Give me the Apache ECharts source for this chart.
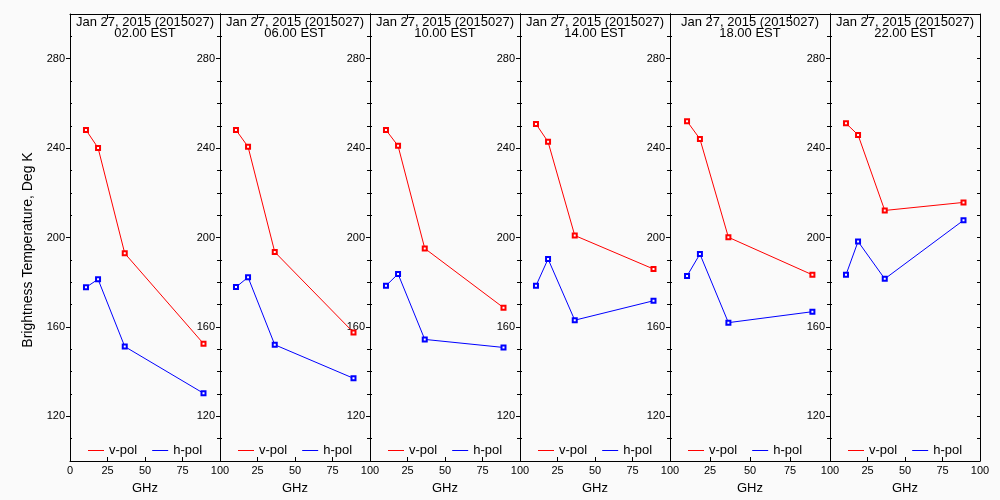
<!DOCTYPE html>
<html>
<head>
<meta charset="utf-8">
<script src="https://cdn.jsdelivr.net/npm/echarts@6/dist/echarts.min.js"></script>
<style>html,body{margin:0;padding:0;background:#fafafa;}#c{width:1000px;height:500px;}</style>
</head>
<body>
<div id="c"></div>
<script>
// ---- data ----
const freqs = [10.65, 18.7, 36.5, 89.0];
const dateLabel = 'Jan 27, 2015 (2015027)';
const times = ['02.00 EST', '06.00 EST', '10.00 EST', '14.00 EST', '18.00 EST', '22.00 EST'];
const vPol0200 = [248.1, 240.1, 192.9, 152.5];
const hPol0200 = [177.7, 181.3, 151.2, 130.3];
const vPol0600 = [248.1, 240.6, 193.5, 157.5];
const hPol0600 = [177.8, 182.2, 152.0, 137.0];
const vPol1000 = [248.1, 241.0, 195.1, 168.6];
const hPol1000 = [178.4, 183.7, 154.4, 150.8];
const vPol1400 = [250.8, 242.8, 200.9, 185.9];
const hPol1400 = [178.4, 190.4, 163.0, 171.7];
const vPol1800 = [252.0, 244.1, 200.1, 183.3];
const hPol1800 = [182.8, 192.6, 161.9, 166.8];
const vPol2200 = [251.1, 245.9, 212.1, 215.7];
const hPol2200 = [183.3, 198.2, 181.5, 207.7];
const yMajorTicks = [120, 160, 200, 240, 280];
const yMinorTicks = [110, 130, 140, 150, 170, 180, 190, 210, 220, 230, 250, 260, 270, 290];
const seriesNames = ['v-pol', 'h-pol'];
const seriesColors = ['#ff0000', '#0000ff'];
const yTitle = 'Brightness Temperature, Deg K';
const xTitle = 'GHz';

const vPols = [vPol0200, vPol0600, vPol1000, vPol1400, vPol1800, vPol2200];
const hPols = [hPol0200, hPol0600, hPol1000, hPol1400, hPol1800, hPol2200];

// ---- layout ----
const panelLeft = [70, 220, 370, 520, 670, 830];
const panelWidth = [150, 150, 150, 150, 160, 150];
const gridTop = 14, gridHeight = 449.5;
const FONT = '"Liberation Sans", Arial, sans-serif';

const grid = [], xAxis = [], yAxis = [], series = [], legend = [], graphic = [];
const allYTicks = yMajorTicks.concat(yMinorTicks).sort((a, b) => a - b);

for (let i = 0; i < 6; i++) {
  grid.push({ left: panelLeft[i], top: gridTop, width: panelWidth[i], height: gridHeight, containLabel: false });
  xAxis.push({
    type: 'value', gridIndex: i, min: 0, max: 100, interval: 25, position: 'bottom',
    name: xTitle, nameLocation: 'middle', nameGap: 21,
    nameTextStyle: { color: '#000', fontSize: 13, fontFamily: FONT },
    axisLine: { show: true, lineStyle: { color: '#000', width: 1 } },
    axisTick: { show: true, inside: true, length: 4, lineStyle: { color: '#000' } },
    axisLabel: {
      show: true, color: '#000', fontSize: 11, fontFamily: FONT, margin: 4,
      showMinLabel: true, showMaxLabel: true,
      formatter: (v) => (i > 0 && v === 0) ? '' : String(v)
    },
    splitLine: { show: false }
  });
  xAxis.push({
    type: 'value', gridIndex: i, min: 0, max: 100, interval: 25, position: 'top',
    axisLine: { show: true, lineStyle: { color: '#000', width: 1 } },
    axisTick: { show: true, inside: true, length: 5, lineStyle: { color: '#000' } },
    axisLabel: { show: false }, splitLine: { show: false }
  });
  yAxis.push({
    type: 'value', gridIndex: i, min: 100, max: 300, position: 'left',
    axisLine: { show: true, lineStyle: { color: '#000', width: 1 } },
    axisTick: { show: true, inside: false, length: 4, customValues: yMajorTicks, lineStyle: { color: '#000' } },
    axisLabel: { show: true, customValues: yMajorTicks, color: '#000', fontSize: 11, fontFamily: FONT, margin: 5 },
    splitLine: { show: false }
  });
  yAxis.push({
    type: 'value', gridIndex: i, min: 100, max: 300, position: 'left',
    axisLine: { show: false },
    axisTick: { show: true, inside: true, length: 2, customValues: yMinorTicks, lineStyle: { color: '#000' } },
    axisLabel: { show: false }, splitLine: { show: false }
  });
  yAxis.push({
    type: 'value', gridIndex: i, min: 100, max: 300, position: 'right',
    axisLine: { show: true, lineStyle: { color: '#000', width: 1 } },
    axisTick: { show: true, inside: true, length: 3, customValues: allYTicks, lineStyle: { color: '#000' } },
    axisLabel: { show: false }, splitLine: { show: false }
  });

  const mk = (arr) => freqs.map((f, j) => [f, arr[j]]);
  [vPols[i], hPols[i]].forEach((arr, k) => {
    series.push({
      name: seriesNames[k], type: 'line', xAxisIndex: 2 * i, yAxisIndex: 3 * i,
      data: mk(arr), color: seriesColors[k], symbol: 'emptyRect', symbolSize: 4,
      lineStyle: { width: 1, color: seriesColors[k] },
      itemStyle: { color: seriesColors[k], borderColor: seriesColors[k], borderWidth: 1 },
      emphasis: { disabled: true },
      animation: false
    });
  });

  legend.push({
    data: seriesNames.map((n, k) => ({ name: n, itemStyle: { color: seriesColors[k], borderWidth: 0 } })),
    left: panelLeft[i] + 18, top: 444, orient: 'horizontal',
    icon: 'rect', itemWidth: 16, itemHeight: 1, itemGap: 15, padding: 0,
    selectedMode: false,
    textStyle: { color: '#000', fontSize: 13, fontFamily: FONT, padding: [0, 0, 0, 0] }
  });

  const cx = panelLeft[i] + panelWidth[i] / 2;
  graphic.push({
    type: 'text', x: cx, y: 22,
    style: { text: dateLabel, fill: '#000', font: '13px ' + FONT, align: 'center', verticalAlign: 'middle', textAlign: 'center', textVerticalAlign: 'middle' }
  });
  graphic.push({
    type: 'text', x: cx, y: 33,
    style: { text: times[i], fill: '#000', font: '13px ' + FONT, align: 'center', verticalAlign: 'middle', textAlign: 'center', textVerticalAlign: 'middle' }
  });
}

graphic.push({
  type: 'text', x: 28, y: 250, rotation: Math.PI / 2,
  style: { text: yTitle, fill: '#000', font: '14px ' + FONT, align: 'center', verticalAlign: 'middle', textAlign: 'center', textVerticalAlign: 'middle' }
});

const chart = echarts.init(document.getElementById('c'), null, { renderer: 'canvas' });
chart.setOption({
  backgroundColor: '#fafafa',
  animation: false,
  grid, xAxis, yAxis, series, legend, graphic
});
</script>
</body>
</html>
